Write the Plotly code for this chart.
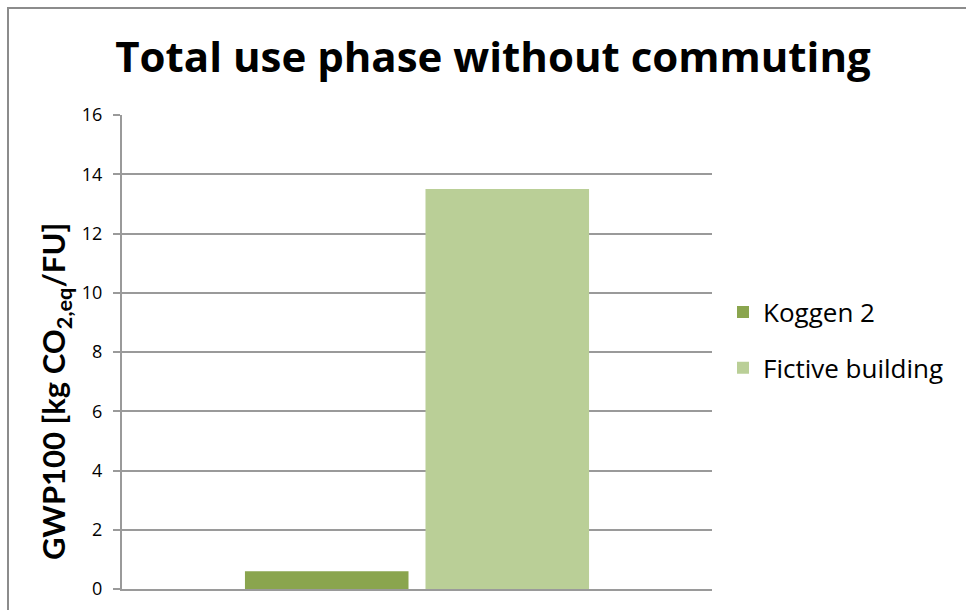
import plotly.graph_objects as go

# Data
category = ["Total use phase"]
series_names = ["Koggen 2", "Fictive building"]
series_values = [[0.6], [13.5]]
series_colors = ["#8AA54E", "#BACF97"]
y_ticks = [0, 2, 4, 6, 8, 10, 12, 14, 16]

FONT = "'Open Sans', 'Noto Sans', sans-serif"
LABEL_FONT = "Lato, 'Open Sans', sans-serif"

fig = go.Figure()
for name, vals, col in zip(series_names, series_values, series_colors):
    fig.add_trace(go.Bar(
        x=category, y=vals, name=name, legendgroup=name,
        marker=dict(color=col, line=dict(width=0)),
    ))

W, H = 966, 610
L, R, T, B = 122, 254, 115, 21
pw, ph = W - L - R, H - T - B

def px_x(p):
    return (p - L) / pw

def px_y(p):
    return (H - B - p) / ph

fig.update_layout(
    width=W, height=H,
    margin=dict(l=L, r=R, t=T, b=B, autoexpand=False),
    paper_bgcolor="white", plot_bgcolor="white",
    barmode="group", bargap=0.388, bargroupgap=0.094,
    font=dict(family=FONT, color="#000000"),
    title=dict(
        text="<b>Total use phase without commuting</b>",
        x=px_x(493), xanchor="center", xref="paper",
        y=1 - 57 / H, yanchor="middle", yref="container",
        font=dict(size=42, family=FONT, color="#000000"),
    ),
    showlegend=True,
    legend=dict(
        x=px_x(723), xanchor="left", y=px_y(340), yanchor="middle",
        font=dict(size=26, family=FONT, color="#000000"),
        traceorder="grouped", tracegroupgap=19,
        itemwidth=30, bgcolor="rgba(0,0,0,0)",
    ),
    xaxis=dict(
        showticklabels=False, ticks="", showgrid=False,
        showline=True, linecolor="#9A9A9A", linewidth=2,
        zeroline=False, fixedrange=True,
    ),
    yaxis=dict(
        range=[0, 16], tickvals=y_ticks,
        ticks="outside", ticklen=7, tickcolor="#9A9A9A", tickwidth=2,
        showline=True, linecolor="#9A9A9A", linewidth=2,
        showgrid=True, gridcolor="#9A9A9A", gridwidth=2,
        zeroline=False, ticklabelstandoff=7,
        tickfont=dict(size=18, family=FONT, color="#000000"),
    ),
    shapes=[dict(
        type="rect", xref="paper", yref="paper",
        x0=px_x(8), x1=px_x(1100), y0=px_y(700), y1=px_y(8),
        line=dict(color="#8C8C8C", width=2), fillcolor="rgba(0,0,0,0)",
        layer="below",
    )],
    annotations=[dict(
        text="<b>GWP100 [kg CO<sub>2,eq</sub>/FU]</b>",
        xref="paper", yref="paper", x=px_x(55), y=px_y(392),
        xanchor="center", yanchor="middle", textangle=-90,
        showarrow=False, font=dict(size=31, family=LABEL_FONT, color="#000000"),
    )],
)

fig.write_html("out.html")
